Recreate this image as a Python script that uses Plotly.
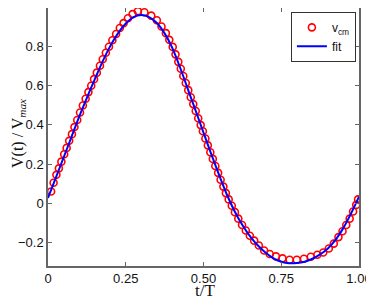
import plotly.graph_objects as go

# measured data (t/T, V/Vmax)
t_data = [0.010, 0.018, 0.027, 0.035, 0.043, 0.052, 0.060, 0.068, 0.077, 0.085,
          0.094, 0.103, 0.112, 0.121, 0.130, 0.139, 0.148, 0.157, 0.167, 0.176,
          0.186, 0.196, 0.207, 0.219, 0.231, 0.243, 0.257, 0.272, 0.289, 0.310,
          0.332, 0.350, 0.365, 0.379, 0.390, 0.401, 0.410, 0.419, 0.427, 0.435,
          0.443, 0.451, 0.459, 0.467, 0.475, 0.483, 0.491, 0.498, 0.506, 0.514,
          0.522, 0.530, 0.538, 0.547, 0.555, 0.564, 0.572, 0.581, 0.591, 0.601,
          0.612, 0.624, 0.636, 0.649, 0.663, 0.678, 0.695, 0.713, 0.733, 0.754,
          0.777, 0.800, 0.823, 0.845, 0.866, 0.885, 0.903, 0.919, 0.934, 0.947,
          0.959, 0.970, 0.981, 0.991, 0.997]
v_data = [0.060, 0.105, 0.145, 0.178, 0.212, 0.250, 0.282, 0.318, 0.352, 0.388,
          0.424, 0.462, 0.498, 0.532, 0.566, 0.598, 0.632, 0.665, 0.700, 0.733,
          0.766, 0.797, 0.830, 0.862, 0.892, 0.917, 0.942, 0.963, 0.978, 0.972,
          0.955, 0.932, 0.900, 0.866, 0.832, 0.796, 0.758, 0.720, 0.685, 0.648,
          0.612, 0.576, 0.540, 0.505, 0.470, 0.433, 0.398, 0.367, 0.330, 0.295,
          0.260, 0.226, 0.190, 0.155, 0.120, 0.085, 0.052, 0.020, -0.012, -0.045,
          -0.078, -0.110, -0.138, -0.165, -0.190, -0.215, -0.240, -0.258, -0.270, -0.280,
          -0.287, -0.287, -0.282, -0.272, -0.262, -0.250, -0.230, -0.205, -0.172, -0.142,
          -0.110, -0.078, -0.042, -0.008, 0.020]

# fitted curve
t_fit = [0.000, 0.025, 0.050, 0.075, 0.100, 0.125, 0.150, 0.175, 0.200, 0.225,
         0.250, 0.275, 0.300, 0.325, 0.350, 0.375, 0.400, 0.425, 0.450, 0.475,
         0.500, 0.525, 0.550, 0.575, 0.600, 0.625, 0.650, 0.675, 0.700, 0.725,
         0.750, 0.775, 0.800, 0.825, 0.850, 0.875, 0.900, 0.925, 0.950, 0.975, 1.000]
v_fit = [0.027, 0.130, 0.232, 0.336, 0.440, 0.537, 0.630, 0.720, 0.800, 0.865,
         0.915, 0.948, 0.958, 0.948, 0.918, 0.865, 0.790, 0.690, 0.580, 0.470,
         0.360, 0.250, 0.145, 0.045, -0.040, -0.110, -0.168, -0.215, -0.252, -0.280,
         -0.297, -0.305, -0.304, -0.297, -0.282, -0.260, -0.230, -0.185, -0.125, -0.050, 0.034]

x_ticks = [0, 0.25, 0.5, 0.75, 1.0]
x_ticklabels = ["0", "0.25", "0.50", "0.75", "1.00"]
y_ticks = [-0.2, 0, 0.2, 0.4, 0.6, 0.8]
y_ticklabels = ["\u22120.2", "0", "0.2", "0.4", "0.6", "0.8"]

SANS = "Liberation Sans, Arial, sans-serif"
SERIF = "Liberation Serif, DejaVu Serif, serif"

fig = go.Figure()
fig.add_trace(go.Scatter(
    x=t_data, y=v_data, mode="markers", name="v<sub>cm</sub>",
    marker=dict(symbol="circle-open", size=7, color="#ff0000",
                line=dict(width=1.6, color="#ff0000")),
))
fig.add_trace(go.Scatter(
    x=t_fit, y=v_fit, mode="lines", name="fit",
    line=dict(color="#0000ff", width=2, shape="spline", smoothing=0.8),
))

axis_common = dict(
    showgrid=False, zeroline=False, showline=True, linecolor="#666666",
    linewidth=1.5, mirror="ticks", ticks="inside", ticklen=4,
    tickcolor="#666666", automargin=False,
    tickfont=dict(family=SANS, size=13, color="#111"),
)

# the page body has an 8px default margin, so the figure is sized to fit the window
fig.update_layout(
    width=366, height=293,
    margin=dict(l=40, r=15, t=0, b=35),
    paper_bgcolor="white", plot_bgcolor="white",
    showlegend=True,
    legend=dict(x=0.99, y=0.985, xanchor="right", yanchor="top",
                bgcolor="white", bordercolor="#333333", borderwidth=1,
                font=dict(family=SANS, size=12, color="#111"),
                itemwidth=30, tracegroupgap=0),
    xaxis=dict(range=[0, 1], tickvals=x_ticks, ticktext=x_ticklabels, **axis_common),
    yaxis=dict(range=[-0.319, 0.994], tickvals=y_ticks, ticktext=y_ticklabels, **axis_common),
    annotations=[
        dict(text="t/T", xref="paper", yref="paper", x=0.5, y=0,
             xanchor="center", yanchor="middle", xshift=1, yshift=-24,
             showarrow=False, font=dict(family=SERIF, size=17, color="#111")),
        dict(text="V(t) / V<sub><i>max</i></sub>", xref="paper", yref="paper",
             x=0, y=0.5, xanchor="center", yanchor="middle", xshift=-30, yshift=3,
             textangle=-90, showarrow=False,
             font=dict(family=SERIF, size=16, color="#111")),
    ],
)

fig.write_html("out.html")
